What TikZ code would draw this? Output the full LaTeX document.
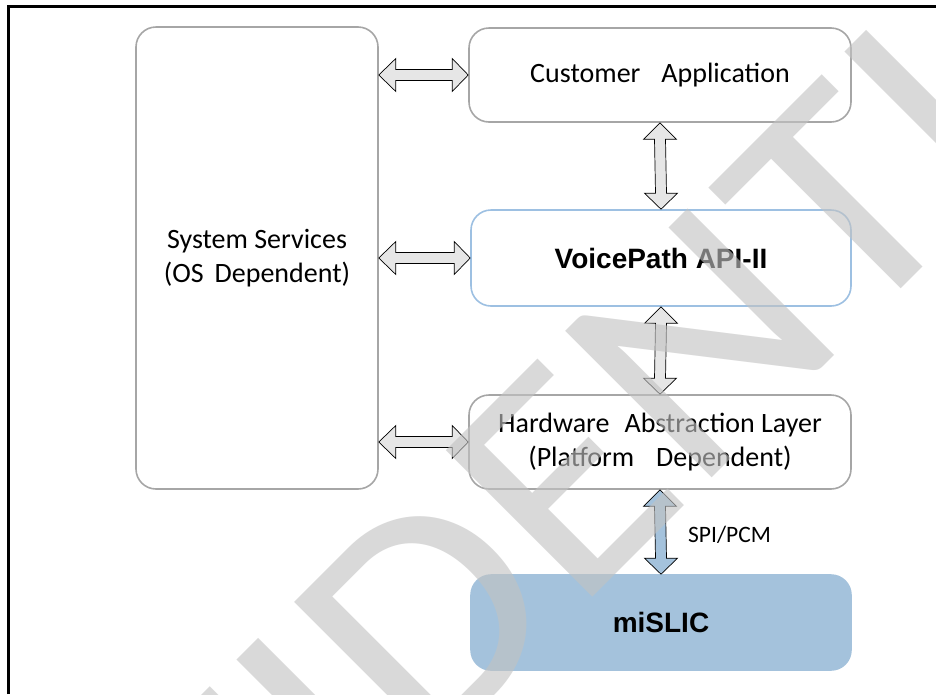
\documentclass[tikz,border=0pt]{standalone}
\usepackage{fontspec}
\setmainfont{Carlito}
\newfontfamily\arialfont{Liberation Sans}
\newfontfamily\wmfont{Carlito}
\usetikzlibrary{calc}
\definecolor{boxgray}{RGB}{166,166,166}
\definecolor{vpblue}{RGB}{157,192,226}
\definecolor{slicblue}{RGB}{164,194,220}
\definecolor{arrgray}{RGB}{230,230,230}
\definecolor{wmgray}{RGB}{194,194,194}
\tikzset{
  box/.style={draw=boxgray, line width=1.6pt, rounded corners=20pt, fill=white,
    inner sep=0pt, align=center, font=\fontsize{28}{34}\selectfont},
  blockarr/.style={draw=black, line width=0.7pt, line join=miter},
}
\newcommand{\myharrow}[3]{%
 \draw[blockarr, fill=#3] (#1) -- ([shift={(17,-16.5)}]#1) -- ([shift={(17,-5.5)}]#1)
  -- ([shift={(-16,-5.5)}]#2) -- ([shift={(-16,-16.5)}]#2) -- (#2)
  -- ([shift={(-16,16.5)}]#2) -- ([shift={(-16,5.5)}]#2)
  -- ([shift={(17,5.5)}]#1) -- ([shift={(17,16.5)}]#1) -- cycle;}
\newcommand{\myvarrow}[3]{%
 \draw[blockarr, fill=#3] (#1) -- ([shift={(16.5,16.5)}]#1) -- ([shift={(5.5,16.5)}]#1)
  -- ([shift={(5.5,-16)}]#2) -- ([shift={(16.5,-16)}]#2) -- (#2)
  -- ([shift={(-16.5,-16)}]#2) -- ([shift={(-5.5,-16)}]#2)
  -- ([shift={(-5.5,16.5)}]#1) -- ([shift={(-16.5,16.5)}]#1) -- cycle;}
\begin{document}
\begin{tikzpicture}[x=1pt, y=-1pt]
\useasboundingbox[fill=white] (0,0) rectangle (936,694);
% frame
\draw[line width=3.5pt] (8.5,694) -- (8.5,6.7) -- (936,6.7);
% boxes
\node[box, minimum width=242pt, minimum height=462pt] (sys) at (257,258)
  {System Services\\(OS\hspace{11pt}Dependent)};
\node[box, minimum width=382pt, minimum height=94pt] (cust) at (660,75)
  {Customer\hspace{21pt}Application};
\node[box, draw=vpblue, minimum width=380pt, minimum height=96pt,
  font=\arialfont\bfseries\fontsize{28}{34}\selectfont] (vp) at (661,258)
  {VoicePath API-II};
\node[box, minimum width=382pt, minimum height=94pt] (hal) at (660,442)
  {Hardware\hspace{15pt}Abstraction Layer\\(Platform\hspace{22pt}Dependent)};
\node[box, draw=slicblue, fill=slicblue, minimum width=380pt, minimum height=95pt,
  font=\arialfont\bfseries\fontsize{28}{34}\selectfont] (slic) at (661,622.5)
  {miSLIC};
% connectors
\coordinate (h1) at (sys.east |- cust.west);
\coordinate (h2) at (sys.east |- vp.west);
\coordinate (h3) at (sys.east |- hal.west);
\myharrow{h1}{cust.west}{arrgray}
\myharrow{h2}{vp.west}{arrgray}
\myharrow{h3}{hal.west}{arrgray}
\myvarrow{cust.south}{vp.north}{arrgray}
\myvarrow{vp.south}{hal.north}{arrgray}
\myvarrow{hal.south}{slic.north}{slicblue}
\node[anchor=base west, inner sep=0pt, font=\fontsize{23.5}{28}\selectfont] (spi) at (688,542) {SPI/PCM};
% watermark
\begin{scope}
\clip (0,0) rectangle (936,694);
\node[anchor=base west, inner sep=0pt, rotate=45, xscale=1.07, text=wmgray, text opacity=0.62,
  font=\wmfont\fontsize{323}{323}\selectfont] (wm) at (-197,1387) {CONFIDENTIAL};
\end{scope}
\end{tikzpicture}
\end{document}
